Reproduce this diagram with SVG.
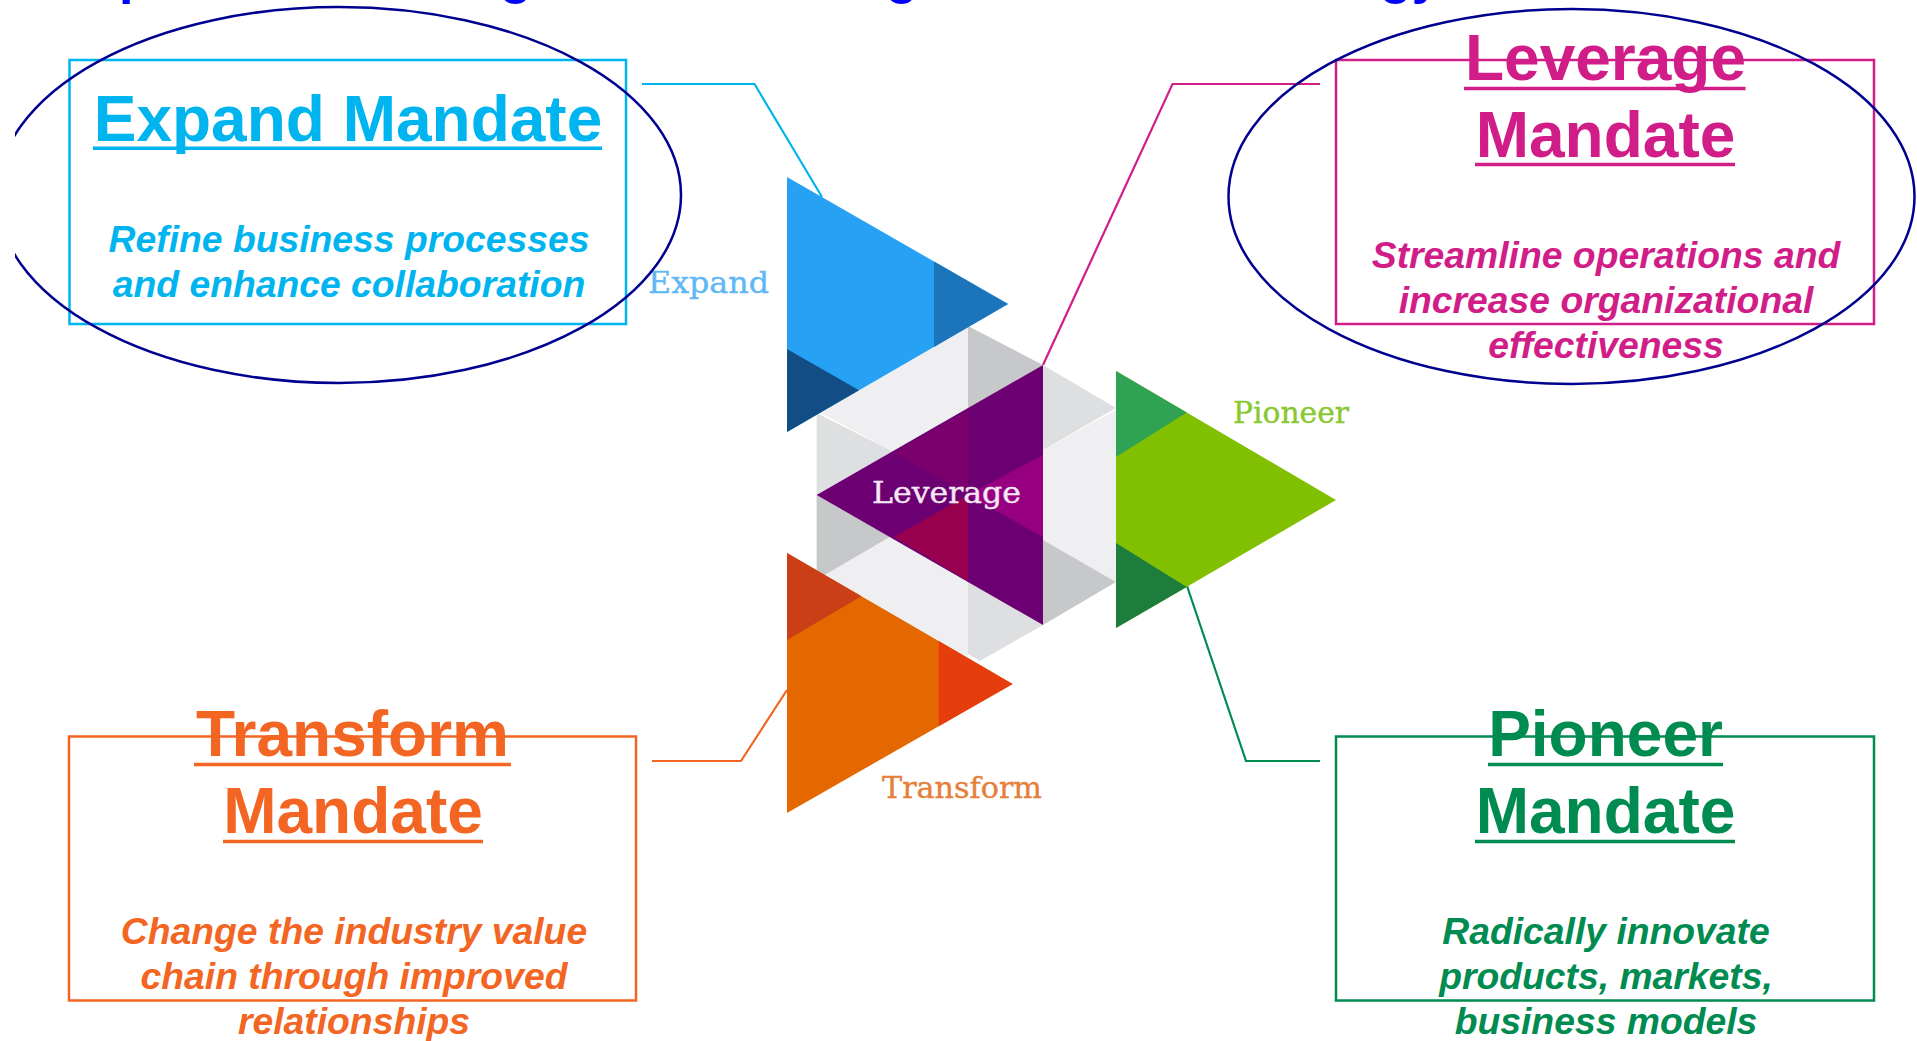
<svg xmlns="http://www.w3.org/2000/svg" width="1917" height="1041" viewBox="0 0 1917 1041">
<style>
text{font-family:"Liberation Sans",Arial,sans-serif}
.t{font-size:64px;font-weight:700;text-anchor:middle}
.u{stroke-width:3.5}
.s{font-size:37.3px;font-weight:700;font-style:italic;text-anchor:middle}
.l{font-family:"DejaVu Serif",serif;font-size:30px;stroke-width:.4}
.b{fill:none;stroke-width:2.5}
.c{fill:none;stroke-width:2.2}
.e{fill:none;stroke:#000090;stroke-width:2.5}
.h{font-size:52px;font-weight:700;fill:#00f}
.cy{fill:#00b5ef}.pk{fill:#d11d88}.or{fill:#f36523}.gr{fill:#008b50}
.g1{fill:#efeff1}.g2{fill:#dedfe1}.g3{fill:#c7c8ca}
</style>
<defs><clipPath id="clipL"><rect x="15" y="0" width="700" height="400"/></clipPath></defs>
<rect width="1917" height="1041" fill="#fff"/>
<g id="heading-fragments">
<text class="h" x="119" y="-7.5">p</text>
<text class="h" x="500" y="-7.5">g</text>
<text class="h" x="886" y="-7.5">g</text>
<text class="h" x="1380" y="-7.5">gy</text>
</g>
<g id="connectors">
<polyline class="c" stroke="#00b5ef" points="642,84 754.5,84 822,197"/>
<polyline class="c" stroke="#d11d88" points="1320,84 1172.5,84 1043,365"/>
<polyline class="c" stroke="#f36523" points="652,761 741,761 787,690"/>
<polyline class="c" stroke="#008b50" points="1320,761 1246,761 1186.7,585"/>
</g>
<g id="logo">
<polygon class="g1" points="859.5,390 968,326 968,408 894,452 821,413"/>
<polygon class="g3" points="968,326 1043,365 968,408"/>
<polygon class="g2" points="1043,365 1116,408 1043,450"/>
<polygon class="g1" points="1043,450 1116,410 1116,582 1043,540"/>
<polygon class="g3" points="1043,540 1116,582 1043,625"/>
<polygon class="g2" points="816.6,413 894,452 816.6,495"/>
<polygon class="g3" points="816.6,495 890,537 816.6,580"/>
<polygon class="g1" points="825,575 890,537 968,582 968,656 900,650"/>
<polygon class="g2" points="968,582 1043,625 980,661 968,654"/>
<g id="leverage-tri">
<polygon fill="#6c0072" points="816.6,495 1043,365 1043,625"/>
<polygon fill="#7a006e" points="894,453 968,410 968,495"/>
<polygon fill="#98004f" points="894,537 968,495 968,581"/>
<polygon fill="#960080" points="1043,455 968,495 1043,537"/>
</g>
<g id="expand-tri">
<polygon fill="#26a1f4" points="787,177 1008,304 787,432"/>
<polygon fill="#1c75ba" points="934,261.5 1008,304 934,347"/>
<polygon fill="#124e85" points="787,349 859,390.3 787,432"/>
</g>
<g id="transform-tri">
<polygon fill="#e56700" points="787,553 1012.6,684 787,813"/>
<polygon fill="#ca3f17" points="787,553 861.4,596.2 787,640"/>
<polygon fill="#e63d0e" points="938.7,641 1012.6,684 938.7,726.3"/>
</g>
<g id="pioneer-tri">
<polygon fill="#80c000" points="1116,371 1336,500 1116,628"/>
<polygon fill="#2fa353" points="1116,371 1186.7,412.5 1116,457"/>
<polygon fill="#1c7d3c" points="1116,543 1186.7,586.9 1116,628"/>
</g>
<text class="l" x="648" y="293" fill="#5fb8f4" stroke="#5fb8f4" textLength="121" lengthAdjust="spacingAndGlyphs">Expand</text>
<text class="l" x="872" y="503" fill="#f4e8f4" stroke="#f4e8f4" textLength="149" lengthAdjust="spacingAndGlyphs">Leverage</text>
<text class="l" x="1233" y="423" fill="#88c830" stroke="#88c830" textLength="116" lengthAdjust="spacingAndGlyphs">Pioneer</text>
<text class="l" x="882" y="798" fill="#e5803a" stroke="#e5803a" textLength="160" lengthAdjust="spacingAndGlyphs">Transform</text>
</g>
<g id="expand-mandate">
<rect class="b" stroke="#00b5ef" x="69.5" y="60" width="556.5" height="264"/>
<text class="t cy" x="348" y="141">Expand Mandate</text>
<line class="u" stroke="#00b5ef" x1="93" y1="148.3" x2="602" y2="148.3"/>
<text class="s cy" x="349" y="252">Refine business processes</text>
<text class="s cy" x="349" y="297">and enhance collaboration</text>
</g>
<g id="leverage-mandate">
<rect class="b" stroke="#d11d88" x="1336" y="60" width="538" height="264"/>
<text class="t pk" x="1605.5" y="80">Leverage</text>
<line class="u" stroke="#d11d88" x1="1464" y1="88.5" x2="1745.5" y2="88.5"/>
<text class="t pk" x="1605.5" y="157">Mandate</text>
<line class="u" stroke="#d11d88" x1="1475" y1="164.5" x2="1735" y2="164.5"/>
<text class="s pk" x="1606" y="268">Streamline operations and</text>
<text class="s pk" x="1606" y="313">increase organizational</text>
<text class="s pk" x="1606" y="358">effectiveness</text>
</g>
<g id="transform-mandate">
<rect class="b" stroke="#f36523" x="69" y="736.5" width="567" height="264"/>
<text class="t or" x="352.5" y="756">Transform</text>
<line class="u" stroke="#f36523" x1="194" y1="764.5" x2="511" y2="764.5"/>
<text class="t or" x="353" y="833">Mandate</text>
<line class="u" stroke="#f36523" x1="223" y1="841.5" x2="483" y2="841.5"/>
<text class="s or" x="354" y="944">Change the industry value</text>
<text class="s or" x="354" y="989">chain through improved</text>
<text class="s or" x="354" y="1034">relationships</text>
</g>
<g id="pioneer-mandate">
<rect class="b" stroke="#008b50" x="1336" y="736.5" width="538" height="264"/>
<text class="t gr" x="1605.5" y="756">Pioneer</text>
<line class="u" stroke="#008b50" x1="1488" y1="764.5" x2="1723" y2="764.5"/>
<text class="t gr" x="1605.5" y="833">Mandate</text>
<line class="u" stroke="#008b50" x1="1475" y1="841.5" x2="1735" y2="841.5"/>
<text class="s gr" x="1606" y="944">Radically innovate</text>
<text class="s gr" x="1606" y="989">products, markets,</text>
<text class="s gr" x="1606" y="1034">business models</text>
</g>
<g id="highlight-ellipses">
<ellipse class="e" cx="339" cy="195" rx="342" ry="188" clip-path="url(#clipL)"/>
<ellipse class="e" cx="1571.5" cy="196.5" rx="343" ry="187.5"/>
</g>
</svg>
